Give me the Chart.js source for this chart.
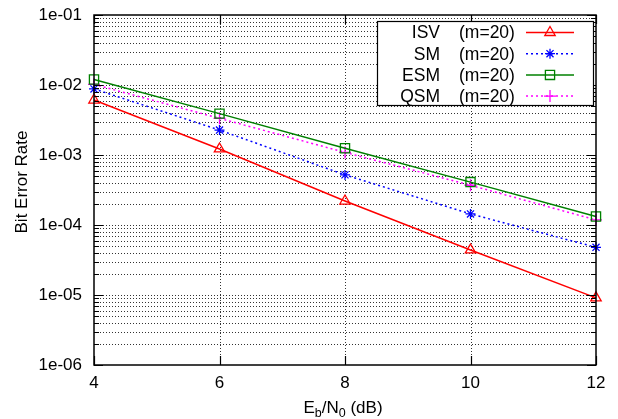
<!DOCTYPE html>
<html>
<head>
<meta charset="utf-8">
<script src="https://cdn.jsdelivr.net/npm/chart.js@4"></script>
<style>
  html, body { margin: 0; padding: 0; background: #fff; }
  #wrap { width: 618px; height: 419px; }
</style>
</head>
<body>
<div id="wrap"><canvas id="berChart" width="618" height="419"></canvas></div>
<script>
// Eb/N0 values (dB) and bit error rates
const ebn0 = [4, 6, 8, 10, 12];
const berISV = [6.1e-3, 1.22e-3, 2.2e-4, 4.4e-5, 9.1e-6];
const berSM = [8.8e-3, 2.27e-3, 5.2e-4, 1.44e-4, 4.8e-5];
const berESM = [1.2e-2, 3.9e-3, 1.25e-3, 4.1e-4, 1.32e-4];
const berQSM = [1.02e-2, 3.34e-3, 1.09e-3, 3.7e-4, 1.18e-4];

const seriesNames = ['ISV', 'SM', 'ESM', 'QSM'];
const seriesNote = '(m=20)';
const xTicks = [4, 6, 8, 10, 12];
const yMajorTicks = [1e-6, 1e-5, 1e-4, 1e-3, 1e-2, 1e-1];
const yMajorLabels = ['1e-06', '1e-05', '1e-04', '1e-03', '1e-02', '1e-01'];

const FONT = '"Liberation Sans", Arial, sans-serif';

// all log ticks: 1..9 per decade
const yAllTicks = [];
for (let e = -6; e < -1; e++) {
    for (let m = 1; m < 10; m++) yAllTicks.push(Number((m * Math.pow(10, e)).toPrecision(3)));
}
yAllTicks.push(1e-1);

function isMajor(v) {
    return yMajorTicks.findIndex(m => Math.abs(m - v) / m < 1e-6);
}

function toPoints(ys) {
    return ebn0.map((x, i) => ({ x: x, y: ys[i] }));
}

const styles = [
    { color: '#ff0000', dash: [], point: 'triangle', radius: 6 },
    { color: '#0000ff', dash: [2, 3], point: 'star', radius: 5 },
    { color: '#008000', dash: [], point: 'rect', radius: 6.5 },
    { color: '#ff00ff', dash: [2, 3], point: 'cross', radius: 6 }
];
const allData = [berISV, berSM, berESM, berQSM];

const datasets = allData.map((d, i) => ({
    label: seriesNames[i],
    data: toPoints(d),
    borderColor: styles[i].color,
    backgroundColor: 'rgba(0,0,0,0)',
    borderWidth: 1.5,
    borderDash: styles[i].dash,
    pointStyle: styles[i].point,
    pointRadius: styles[i].radius,
    pointBorderWidth: 1.3,
    pointBorderColor: styles[i].color,
    pointBackgroundColor: 'rgba(0,0,0,0)',
    tension: 0,
    clip: false
}));

// dotted grid behind the data
const gridPlugin = {
    id: 'dottedGrid',
    beforeDatasetsDraw(chart) {
        const ctx = chart.ctx;
        const a = chart.chartArea;
        const xs = chart.scales.x;
        const ys = chart.scales.y;
        ctx.save();
        ctx.strokeStyle = 'rgba(0,0,0,0.8)';
        ctx.lineWidth = 1;
        ctx.setLineDash([1, 2]);
        yAllTicks.forEach(v => {
            if (v === 1e-6 || v === 1e-1) return;
            const py = Math.round(ys.getPixelForValue(v)) + 0.5;
            ctx.beginPath();
            ctx.moveTo(a.left, py); ctx.lineTo(a.right, py);
            ctx.stroke();
        });
        xTicks.forEach(v => {
            if (v === 4 || v === 12) return;
            const px = Math.round(xs.getPixelForValue(v)) + 0.5;
            ctx.beginPath();
            ctx.moveTo(px, a.top); ctx.lineTo(px, a.bottom);
            ctx.stroke();
        });
        ctx.restore();
    }
};

// gnuplot-like frame, inward ticks, titles and legend
const decorPlugin = {
    id: 'decor',
    afterDraw(chart) {
        const ctx = chart.ctx;
        const a = chart.chartArea;
        const xs = chart.scales.x;
        const ys = chart.scales.y;
        ctx.save();

        // frame
        ctx.strokeStyle = '#000';
        ctx.lineWidth = 1.5;
        ctx.setLineDash([]);
        ctx.strokeRect(a.left, a.top, a.right - a.left, a.bottom - a.top);

        // y ticks, both sides
        ctx.lineWidth = 1.2;
        yAllTicks.forEach(v => {
            const py = Math.round(ys.getPixelForValue(v)) + 0.5;
            const len = isMajor(v) >= 0 ? 9 : 5;
            ctx.beginPath();
            ctx.moveTo(a.left, py); ctx.lineTo(a.left + len, py);
            ctx.moveTo(a.right, py); ctx.lineTo(a.right - len, py);
            ctx.stroke();
        });
        // x ticks, both sides
        xTicks.forEach(v => {
            const px = Math.round(xs.getPixelForValue(v)) + 0.5;
            ctx.beginPath();
            ctx.moveTo(px, a.bottom); ctx.lineTo(px, a.bottom - 9);
            ctx.moveTo(px, a.top); ctx.lineTo(px, a.top + 9);
            ctx.stroke();
        });

        // x title with subscripts: E_b/N_0 (dB)
        ctx.fillStyle = '#000';
        ctx.textBaseline = 'alphabetic';
        const big = '17px ' + FONT;
        const small = '12.5px ' + FONT;
        const parts = [['E', big, 0], ['b', small, 4], ['/N', big, 0], ['0', small, 4], [' (dB)', big, 0]];
        let total = 0;
        parts.forEach(p => { ctx.font = p[1]; total += ctx.measureText(p[0]).width; });
        let cx = 343 - total / 2;
        const base = 413;
        ctx.textAlign = 'left';
        parts.forEach(p => {
            ctx.font = p[1];
            ctx.fillText(p[0], cx, base + p[2]);
            cx += ctx.measureText(p[0]).width;
        });

        // y title
        ctx.save();
        ctx.translate(27, 182);
        ctx.rotate(-Math.PI / 2);
        ctx.font = big;
        ctx.textAlign = 'center';
        ctx.fillText('Bit Error Rate', 0, 0);
        ctx.restore();

        // legend box
        const lx = 377, ly = 21, lw = 216, lh = 84;
        ctx.fillStyle = '#fff';
        ctx.fillRect(lx, ly, lw, lh);
        ctx.strokeStyle = '#000';
        ctx.lineWidth = 1.2;
        ctx.strokeRect(lx + 0.5, ly + 0.5, lw, lh);
        ctx.font = '17.5px ' + FONT;
        ctx.textBaseline = 'middle';
        seriesNames.forEach((name, i) => {
            const y = 32.5 + i * 21.2;
            const st = styles[i];
            ctx.fillStyle = '#000';
            ctx.textAlign = 'right';
            ctx.fillText(name, 440, y + 1);
            ctx.textAlign = 'left';
            ctx.fillText(seriesNote, 459, y + 1);
            ctx.strokeStyle = st.color;
            ctx.lineWidth = 1.5;
            ctx.setLineDash(st.dash);
            ctx.beginPath();
            ctx.moveTo(526, y); ctx.lineTo(574, y);
            ctx.stroke();
            ctx.setLineDash([]);
            ctx.fillStyle = 'rgba(0,0,0,0)';
            ctx.lineWidth = 1.3;
            Chart.helpers.drawPoint(ctx, {
                pointStyle: st.point, radius: st.radius, borderWidth: 1.3, rotation: 0
            }, 550, y);
        });

        ctx.restore();
    }
};

new Chart(document.getElementById('berChart'), {
    type: 'line',
    data: { datasets: datasets },
    options: {
        responsive: false,
        animation: false,
        devicePixelRatio: 1,
        layout: { padding: { left: 0, right: 22, top: 15, bottom: 0 } },
        plugins: {
            legend: { display: false },
            tooltip: { enabled: false }
        },
        scales: {
            x: {
                type: 'linear',
                min: 4,
                max: 12,
                afterBuildTicks: s => { s.ticks = xTicks.map(v => ({ value: v })); },
                afterFit: s => { s.height = 54; s.paddingLeft = 0; s.paddingRight = 0; },
                ticks: {
                    color: '#000',
                    font: { family: FONT, size: 17 },
                    padding: 8,
                    maxRotation: 0,
                    autoSkip: false
                },
                grid: { display: false, drawTicks: false },
                border: { display: false }
            },
            y: {
                type: 'logarithmic',
                min: 1e-6,
                max: 1e-1,
                afterBuildTicks: s => { s.ticks = yAllTicks.map(v => ({ value: v })); },
                afterFit: s => { s.width = 94; s.paddingTop = 0; s.paddingBottom = 0; },
                ticks: {
                    color: '#000',
                    font: { family: FONT, size: 17 },
                    padding: 12,
                    autoSkip: false,
                    callback: v => {
                        const k = isMajor(v);
                        return k >= 0 ? yMajorLabels[k] : '';
                    }
                },
                grid: { display: false, drawTicks: false },
                border: { display: false }
            }
        }
    },
    plugins: [gridPlugin, decorPlugin]
});
</script>
</body>
</html>
